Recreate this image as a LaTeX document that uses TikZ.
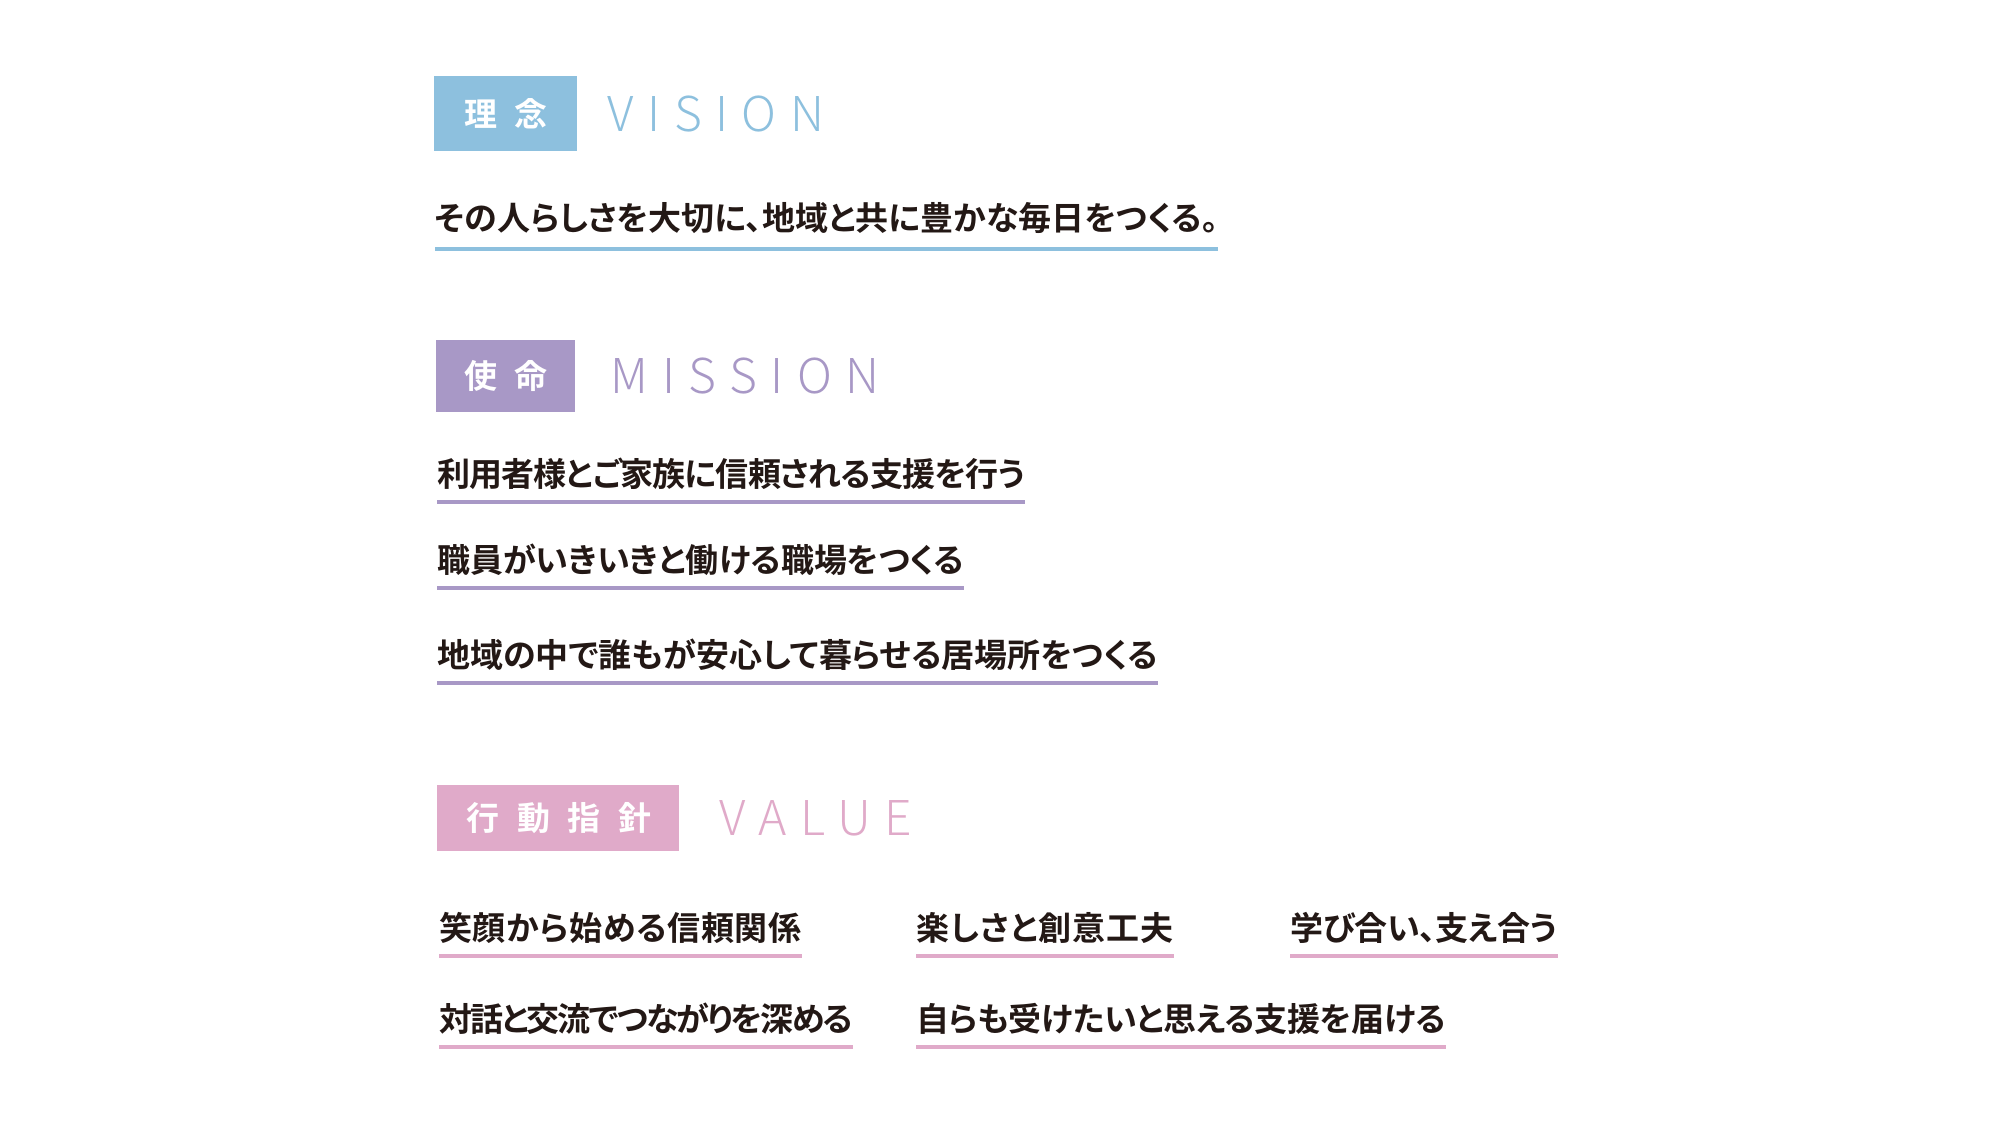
\documentclass[tikz,border=0pt]{standalone}
\usepackage{fontspec}
\usetikzlibrary{positioning}
\newfontfamily\jpfont[RawFeature=+palt]{Noto Sans CJK JP Bold}
\newfontfamily\boxfont[LetterSpace=54]{Noto Sans CJK JP Bold}
\newfontfamily\headfont[LetterSpace=28]{Noto Sans CJK JP Light}
\definecolor{visionblue}{RGB}{141,192,222}
\definecolor{missionpurple}{RGB}{168,152,198}
\definecolor{valuepink}{RGB}{224,170,201}
\definecolor{inkblack}{RGB}{35,24,21}
\tikzset
{
  titlebox/.style   = {rectangle, fill=#1, inner sep=0pt},
  titlelabel/.style = {inner sep=0pt, xshift=1pt, text=white, font=\boxfont\fontsize{33}{33}\selectfont},
  titleword/.style  = {inner sep=0pt, text=#1, font=\headfont\fontsize{48}{48}\selectfont},
  item/.style       = {anchor=west, inner sep=0pt, text=inkblack, font=\jpfont\fontsize{33}{33}\selectfont\addfontfeature{LetterSpace=#1}},
  item/.default     = 0,
  underline/.style  = {draw=#1, line width=4pt}
}
\begin{document}
\begin{tikzpicture}[x=1pt,y=-1pt]
  \useasboundingbox[fill=white] (0,0) rectangle (2000,1125);

  % vision
  \node [titlebox=visionblue, minimum width=143pt, minimum height=75pt] (visionbox) at (505,113.5) {};
  \node [titlelabel] (visionlabel) at (visionbox.center) {理念};
  \node [titleword=visionblue, right=31pt of visionbox] (visionhead) {VISION};
  \node [item] (vision) at (435,218) {その人らしさを大切に、地域と共に豊かな毎日をつくる。};
  \draw [underline=visionblue] ([yshift=-31pt]vision.west) -- ([yshift=-31pt]vision.east);

  % mission
  \node [titlebox=missionpurple, minimum width=139pt, minimum height=72pt] (missionbox) at (505,376) {};
  \node [titlelabel] (missionlabel) at (missionbox.center) {使命};
  \node [titleword=missionpurple, right=36pt of missionbox] (missionhead) {MISSION};
  \node [item=-2.5] (missiona) at (437,474) {利用者様とご家族に信頼される支援を行う};
  \node [item] (missionb) at (437,560) {職員がいきいきと働ける職場をつくる};
  \node [item] (missionc) at (437,655) {地域の中で誰もが安心して暮らせる居場所をつくる};
  \foreach \m in {missiona,missionb,missionc}
    \draw [underline=missionpurple] ([yshift=-28pt]\m.west) -- ([yshift=-28pt]\m.east);

  % value
  \node [titlebox=valuepink, minimum width=242pt, minimum height=66pt] (valuebox) at (558,818) {};
  \node [titlelabel] (valuelabel) at (valuebox.center) {行動指針};
  \node [titleword=valuepink, right=40pt of valuebox] (valuehead) {VALUE};
  \node [item=2] (valuea) at (439,928) {笑顔から始める信頼関係};
  \node [item=3] (valueb) at (916,928) {楽しさと創意工夫};
  \node [item=-1] (valuec) at (1290,928) {学び合い、支え合う};
  \node [item=-6] (valued) at (439,1019) {対話と交流でつながりを深める};
  \node [item=-1] (valuee) at (916,1019) {自らも受けたいと思える支援を届ける};
  \foreach \v in {valuea,valueb,valuec,valued,valuee}
    \draw [underline=valuepink] ([yshift=-28pt]\v.west) -- ([yshift=-28pt]\v.east);
\end{tikzpicture}
\end{document}
